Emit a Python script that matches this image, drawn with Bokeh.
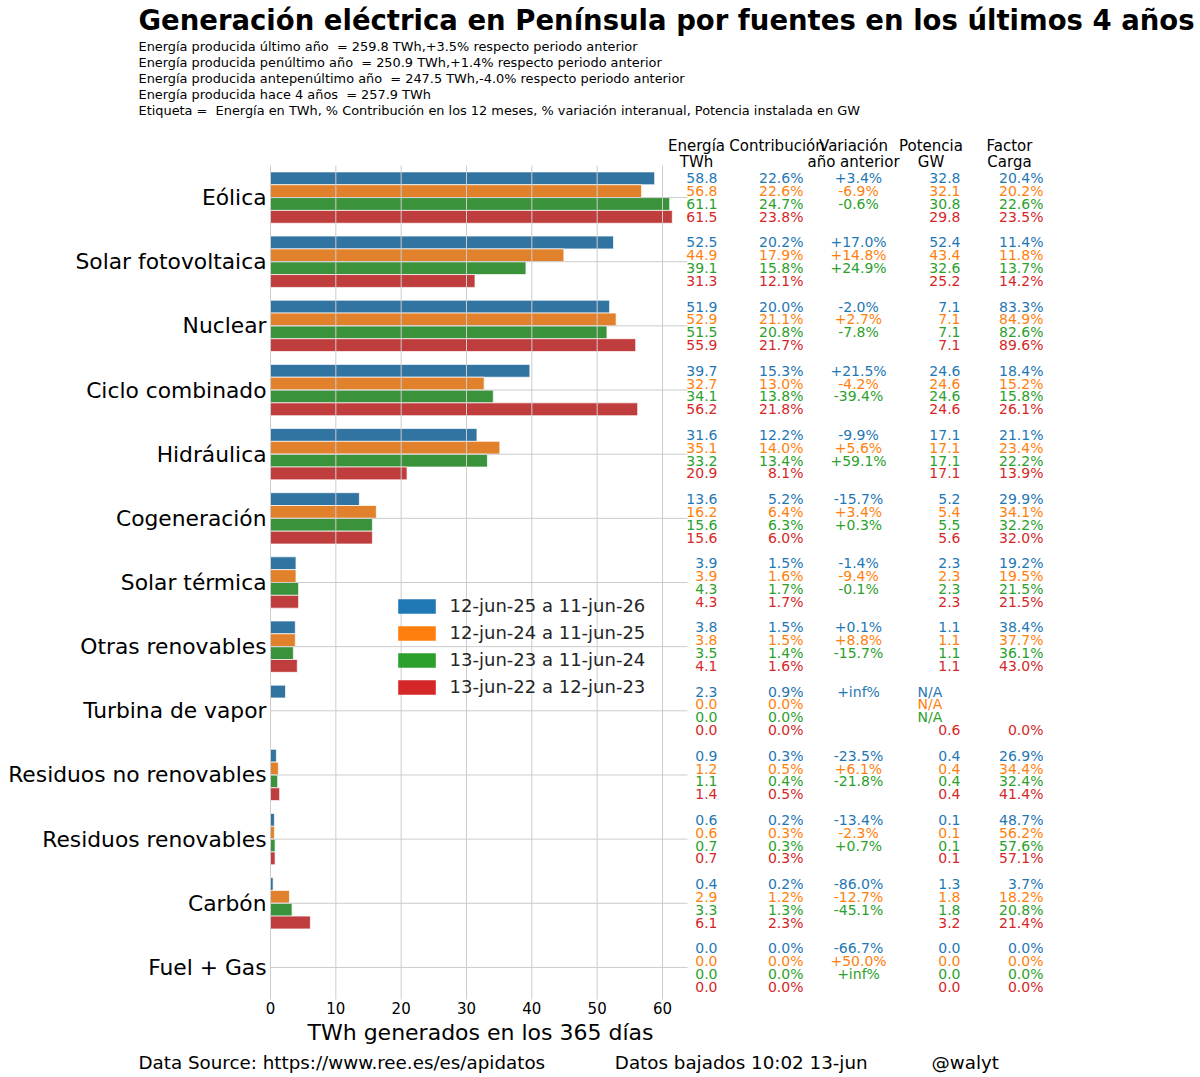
from bokeh.plotting import figure
from bokeh.models import (ColumnDataSource, Range1d, FixedTicker, Legend, LegendItem,
                          Title)
from bokeh.transform import dodge
from bokeh.core.properties import value
from bokeh.embed import file_html
from bokeh.resources import INLINE

# ---------------- data ----------------
categories = ["Eólica", "Solar fotovoltaica", "Nuclear", "Ciclo combinado",
              "Hidráulica", "Cogeneración", "Solar térmica", "Otras renovables",
              "Turbina de vapor", "Residuos no renovables", "Residuos renovables",
              "Carbón", "Fuel + Gas"]

periods = ["12-jun-25 a 11-jun-26", "12-jun-24 a 11-jun-25",
           "13-jun-23 a 11-jun-24", "13-jun-22 a 12-jun-23"]

# energy TWh per category: [latest, previous, 2 before, 3 before]
energia = [
    [58.8, 56.8, 61.1, 61.5],
    [52.5, 44.9, 39.1, 31.3],
    [51.9, 52.9, 51.5, 55.9],
    [39.7, 32.7, 34.1, 56.2],
    [31.6, 35.1, 33.2, 20.9],
    [13.6, 16.2, 15.6, 15.6],
    [3.9, 3.9, 4.3, 4.3],
    [3.8, 3.8, 3.5, 4.1],
    [2.3, 0.0, 0.0, 0.0],
    [0.9, 1.2, 1.1, 1.4],
    [0.6, 0.6, 0.7, 0.7],
    [0.4, 2.9, 3.3, 6.1],
    [0.0, 0.0, 0.0, 0.0],
]

contribucion = [
    [22.6, 22.6, 24.7, 23.8],
    [20.2, 17.9, 15.8, 12.1],
    [20.0, 21.1, 20.8, 21.7],
    [15.3, 13.0, 13.8, 21.8],
    [12.2, 14.0, 13.4, 8.1],
    [5.2, 6.4, 6.3, 6.0],
    [1.5, 1.6, 1.7, 1.7],
    [1.5, 1.5, 1.4, 1.6],
    [0.9, 0.0, 0.0, 0.0],
    [0.3, 0.5, 0.4, 0.5],
    [0.2, 0.3, 0.3, 0.3],
    [0.2, 1.2, 1.3, 2.3],
    [0.0, 0.0, 0.0, 0.0],
]

INF = float("inf")
variacion = [
    [3.4, -6.9, -0.6],
    [17.0, 14.8, 24.9],
    [-2.0, 2.7, -7.8],
    [21.5, -4.2, -39.4],
    [-9.9, 5.6, 59.1],
    [-15.7, 3.4, 0.3],
    [-1.4, -9.4, -0.1],
    [0.1, 8.8, -15.7],
    [INF, None, None],
    [-23.5, 6.1, -21.8],
    [-13.4, -2.3, 0.7],
    [-86.0, -12.7, -45.1],
    [-66.7, 50.0, INF],
]

potencia = [
    [32.8, 32.1, 30.8, 29.8],
    [52.4, 43.4, 32.6, 25.2],
    [7.1, 7.1, 7.1, 7.1],
    [24.6, 24.6, 24.6, 24.6],
    [17.1, 17.1, 17.1, 17.1],
    [5.2, 5.4, 5.5, 5.6],
    [2.3, 2.3, 2.3, 2.3],
    [1.1, 1.1, 1.1, 1.1],
    [None, None, None, 0.6],
    [0.4, 0.4, 0.4, 0.4],
    [0.1, 0.1, 0.1, 0.1],
    [1.3, 1.8, 1.8, 3.2],
    [0.0, 0.0, 0.0, 0.0],
]

factor_carga = [
    [20.4, 20.2, 22.6, 23.5],
    [11.4, 11.8, 13.7, 14.2],
    [83.3, 84.9, 82.6, 89.6],
    [18.4, 15.2, 15.8, 26.1],
    [21.1, 23.4, 22.2, 13.9],
    [29.9, 34.1, 32.2, 32.0],
    [19.2, 19.5, 21.5, 21.5],
    [38.4, 37.7, 36.1, 43.0],
    [None, None, None, 0.0],
    [26.9, 34.4, 32.4, 41.4],
    [48.7, 56.2, 57.6, 57.1],
    [3.7, 18.2, 20.8, 21.4],
    [0.0, 0.0, 0.0, 0.0],
]

x_ticks = [0, 10, 20, 30, 40, 50, 60]

title_text = "Generación eléctrica en Península por fuentes en los últimos 4 años"
subtitle_lines = [
    "Energía producida último año  = 259.8 TWh,+3.5% respecto periodo anterior",
    "Energía producida penúltimo año  = 250.9 TWh,+1.4% respecto periodo anterior",
    "Energía producida antepenúltimo año  = 247.5 TWh,-4.0% respecto periodo anterior",
    "Energía producida hace 4 años  = 257.9 TWh",
    "Etiqueta =  Energía en TWh, % Contribución en los 12 meses, % variación interanual, Potencia instalada en GW",
]
header_line1 = ["Energía", "Contribución", "Variación", "Potencia", "Factor"]
header_line2 = ["TWh", "", "año anterior", "GW", "Carga"]
x_label = "TWh generados en los 365 días"
footer_texts = ["Data Source: https://www.ree.es/es/apidatos",
                "Datos bajados 10:02 13-jun", "@walyt"]

# ---------------- styles / layout ----------------
FONT = "DejaVu Sans"
bar_colors = ["#3274a1", "#e1812c", "#3a923a", "#c03d3e"]
text_colors = ["#1f77b4", "#ff7f0e", "#2ca02c", "#d62728"]
offsets = [-0.3, -0.1, 0.1, 0.3]   # bar offsets within a category (down is +)

W, H = 1200, 1077
FRAME_TOP = 118       # page y of the top of the plotting frame
CAT_TOP = 165         # page y where the first category band starts
AXIS_Y = 999          # page y of the x axis (bottom of the bands)
FL = 270              # page x of value 0
SCALE = 392 / 60      # px per TWh
N = len(categories)
Y_UNIT = (AXIS_Y - CAT_TOP) / N
NBSP = "\u00a0"


def keep_spaces(s):
    return s.replace("  ", " " + NBSP)


def dx(page_x):
    return (page_x - FL) / SCALE


def dy(page_y):
    return -0.5 + (page_y - CAT_TOP) / Y_UNIT


p = figure(width=W, height=H, output_backend="svg",
           toolbar_location=None, title=None,
           x_range=Range1d(0, dx(W)),
           y_range=Range1d(dy(AXIS_Y), dy(FRAME_TOP)),   # flipped: first category on top
           min_border_left=FL, min_border_top=FRAME_TOP, min_border_right=0,
           min_border_bottom=H - AXIS_Y)
p.outline_line_color = None
p.grid.grid_line_color = None

p.xaxis.ticker = FixedTicker(ticks=x_ticks)
p.xaxis.axis_line_color = None
p.xaxis.major_tick_line_color = None
p.xaxis.minor_tick_line_color = None
p.xaxis.major_tick_out = 0
p.xaxis.major_label_standoff = 2
p.xaxis.major_label_text_font = FONT
p.xaxis.major_label_text_font_size = "15px"
p.xaxis.major_label_text_color = "black"

p.yaxis.ticker = FixedTicker(ticks=list(range(N)))
p.yaxis.major_label_overrides = {i: c for i, c in enumerate(categories)}
p.yaxis.axis_line_color = None
p.yaxis.major_tick_line_color = None
p.yaxis.minor_tick_line_color = None
p.yaxis.major_tick_out = 0
p.yaxis.major_label_standoff = 4
p.yaxis.major_label_text_font = FONT
p.yaxis.major_label_text_font_size = "21.8px"
p.yaxis.major_label_text_color = "black"

# ---- titles above the frame (first added sits closest to the frame) ----
for line in reversed(subtitle_lines):
    p.add_layout(Title(text=keep_spaces(line), align="left", offset=138 - FL,
                       vertical_align="middle", standoff=-1.4,
                       text_font=FONT, text_font_size="12.9px",
                       text_font_style="normal", text_color="black"), "above")
p.add_layout(Title(text=title_text, align="left", offset=138 - FL,
                   vertical_align="middle", standoff=4,
                   text_font=FONT, text_font_size="27.5px",
                   text_font_style="bold", text_color="black"), "above")

# ---- texts below the axis ----
p.add_layout(Title(text=x_label, align="left", offset=307 - FL,
                   vertical_align="middle", standoff=5,
                   text_font=FONT, text_font_size="22px",
                   text_font_style="normal", text_color="black"), "below")
footer_line = (footer_texts[0] + NBSP * 12 + footer_texts[1] + NBSP * 11 +
               footer_texts[2])
p.add_layout(Title(text=footer_line, align="left", offset=138 - FL,
                   vertical_align="bottom", standoff=3,
                   text_font=FONT, text_font_size="18.3px",
                   text_font_style="normal", text_color="black"), "below")

cat_src = ColumnDataSource(dict(idx=list(range(N)), cat=categories))

for k in range(4):
    src = ColumnDataSource(dict(idx=list(range(N)), val=[r[k] for r in energia]))
    p.hbar(y=dodge("idx", offsets[k]), left=0, right="val",
           height=0.2, source=src, fill_color=bar_colors[k],
           line_color="white", line_width=0.7)

# grid lines (drawn above the bars, as in the reference)
GRID = "#cccccc"
p.segment(x0=x_ticks, x1=x_ticks, y0=[-0.5] * len(x_ticks),
          y1=[N - 0.5] * len(x_ticks), line_color=GRID, line_width=1,
          level="guide")
p.segment(x0=0, x1=dx(687), y0="idx", y1="idx", source=cat_src,
          line_color=GRID, line_width=1, level="guide")

# legend with the pure colours (zero-width proxy bars)
items = []
for k in range(4):
    r = p.hbar(y=[N - 1], left=[0], right=[0], height=0.2,
               fill_color=text_colors[k], line_color=None)
    items.append(LegendItem(label=periods[k], renderers=[r]))
legend = Legend(items=items, location=(122.6, 302),
                glyph_width=47, glyph_height=18, label_height=21,
                label_standoff=10, spacing=6, padding=0, margin=0,
                label_text_font=FONT, label_text_font_size="18px",
                label_text_color="#262626",
                border_line_color=None, background_fill_alpha=0)
p.add_layout(legend, "center")


def fmt_num(v):
    return "" if v is None else f"{v:.1f}"


def fmt_pct(v):
    return "" if v is None else f"{v:.1f}%"


def fmt_var(v):
    return "" if v is None else f"{v:+.1f}%"


col_e, col_c, col_v, col_p, col_na, col_f = (dx(x) for x in (717, 803, 858, 960, 917, 1043))
for k in range(4):
    src = ColumnDataSource(dict(
        idx=list(range(N)),
        e=[fmt_num(r[k]) for r in energia],
        c=[fmt_pct(r[k]) for r in contribucion],
        v=[fmt_var(r[k]) if k < 3 else "" for r in variacion],
        pw=[fmt_num(r[k]) for r in potencia],
        na=["N/A" if r[k] is None else "" for r in potencia],
        f=[fmt_pct(r[k]) for r in factor_carga],
    ))
    common = dict(y=dodge("idx", offsets[k]), source=src, text_baseline="middle",
                  text_font=value(FONT), text_font_size="14px",
                  text_color=text_colors[k])
    p.text(x=col_e, text="e", text_align="right", **common)
    p.text(x=col_c, text="c", text_align="right", **common)
    p.text(x=col_v, text="v", text_align="center", **common)
    p.text(x=col_p, text="pw", text_align="right", **common)
    p.text(x=col_na, text="na", text_align="left", **common)
    p.text(x=col_f, text="f", text_align="right", **common)

# column headers
header_x = [dx(x) for x in (696, 776.5, 853, 930.5, 1009)]
p.text(x=header_x, y=[dy(145)] * 5, text=header_line1, text_align="center",
       text_baseline="middle", text_font=value(FONT), text_font_size="15px",
       text_color="black")
p.text(x=header_x, y=[dy(161)] * 5, text=header_line2, text_align="center",
       text_baseline="middle", text_font=value(FONT), text_font_size="15px",
       text_color="black")

open("out.html", "w").write(file_html(p, INLINE))
